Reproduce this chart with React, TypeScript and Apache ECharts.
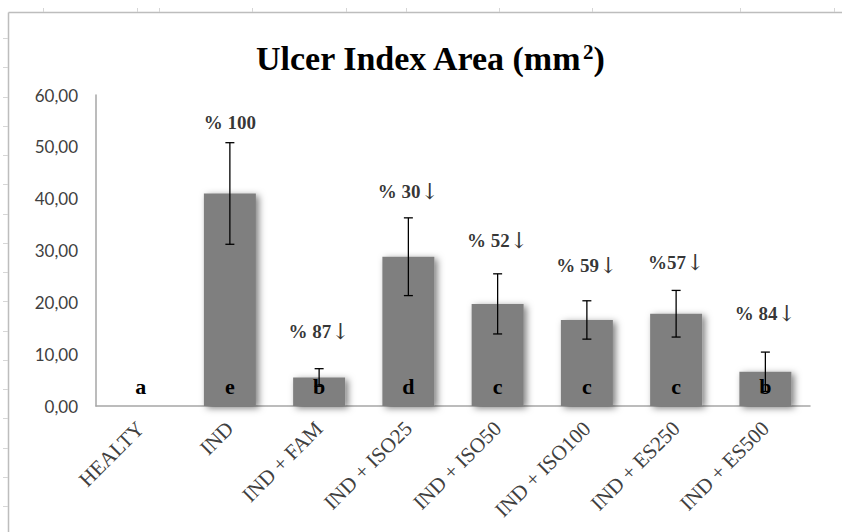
import React, { useEffect, useRef } from "react";
import * as echarts from "echarts";

const categories = ["HEALTY", "IND", "IND + FAM", "IND + ISO25", "IND + ISO50", "IND + ISO100", "IND + ES250", "IND + ES500"];
const means = [0, 41.0, 5.5, 28.8, 19.7, 16.6, 17.8, 6.6];
const sds = [0, 9.8, 1.7, 7.5, 5.8, 3.7, 4.5, 3.8];
const letters = ["a", "e", "b", "d", "c", "c", "c", "b"];
const pctLabels = ["", "% 100", "% 87", "% 30", "% 52", "% 59", "%57", "% 84"];
const pctArrows = [false, false, true, true, true, true, true, true];
const pctLabelY = [null, 54.6, 14.3, 41.4, 31.9, 27.2, 27.7, 17.9];
const yTicks = { min: 0, max: 60, interval: 10 };
const frameTopTicks = [43, 137, 159, 252, 346, 406, 499, 592, 740, 834];

export default function App() {
  const ref = useRef<HTMLDivElement>(null);
  useEffect(() => {
    document.body.style.margin = "0";
    const chart = echarts.init(ref.current!, undefined, { renderer: "svg" });
    const serif = "'Liberation Serif', 'Times New Roman', serif";
    const graphics: any[] = [
      { type: "line", shape: { x1: 8.5, y1: 12.5, x2: 842, y2: 12.5 }, style: { stroke: "#bdbdbd", lineWidth: 1.5 }, silent: true },
      { type: "line", shape: { x1: 8.5, y1: 12.5, x2: 8.5, y2: 532 }, style: { stroke: "#bdbdbd", lineWidth: 1.5 }, silent: true },
    ];
    frameTopTicks.forEach((x) => {
      graphics.push({ type: "line", shape: { x1: x + 0.5, y1: 8, x2: x + 0.5, y2: 12 }, style: { stroke: "#d6d6d6", lineWidth: 1 }, silent: true });
    });
    for (let y = 38; y < 532; y += 29.25) {
      graphics.push({ type: "line", shape: { x1: 3, y1: Math.round(y) + 0.5, x2: 8, y2: Math.round(y) + 0.5 }, style: { stroke: "#d6d6d6", lineWidth: 1 }, silent: true });
    }
    chart.setOption({
      animation: false,
      backgroundColor: "#ffffff",
      title: {
        text: "{t|Ulcer Index Area (mm}{s|2}{t|)}",
        left: 251,
        top: 36,
        textStyle: {
          rich: {
            t: { fontFamily: serif, fontWeight: "bold", fontSize: 34, color: "#000" },
            s: { fontFamily: serif, fontWeight: "bold", fontSize: 21, color: "#000", verticalAlign: "top" },
          },
        },
      },
      graphic: graphics,
      grid: { left: 96, right: 32, top: 95, bottom: 126 },
      xAxis: {
        type: "category",
        data: categories,
        axisLine: { lineStyle: { color: "#a6a6a6", width: 1.5 } },
        axisTick: { show: false },
        axisLabel: { rotate: 45, interval: 0, fontFamily: serif, fontSize: 21, color: "#404040", margin: 19 },
      },
      yAxis: {
        type: "value",
        min: yTicks.min,
        max: yTicks.max,
        interval: yTicks.interval,
        splitLine: { show: false },
        axisLine: { show: true, lineStyle: { color: "#a6a6a6", width: 1.5 } },
        axisTick: { show: false },
        axisLabel: {
          fontFamily: "Lato, 'Liberation Sans', sans-serif",
          fontSize: 17,
          color: "#404040",
          margin: 18,
          formatter: (v: number) => v.toFixed(2).replace(".", ","),
        },
      },
      series: [
        {
          type: "bar",
          data: means,
          barWidth: 52,
          itemStyle: {
            color: "#7f7f7f",
            shadowBlur: 7,
            shadowColor: "rgba(0,0,0,0.5)",
            shadowOffsetX: 3,
            shadowOffsetY: 2,
          },
          label: {
            show: true,
            position: "insideBottom",
            distance: 9,
            formatter: (p: any) => letters[p.dataIndex],
            fontFamily: serif,
            fontWeight: "bold",
            fontSize: 22,
            color: "#000",
          },
          z: 2,
        },
        {
          type: "custom",
          z: 10,
          data: means.map((m, i) => [i, m - sds[i], m + sds[i]]),
          renderItem: (params: any, api: any) => {
            const i = api.value(0);
            if (sds[i] === 0) return null;
            const lo = api.coord([i, api.value(1)]);
            const hi = api.coord([i, api.value(2)]);
            const cap = 4.5;
            const st = { stroke: "#000", lineWidth: 1.3 };
            return {
              type: "group",
              children: [
                { type: "line", shape: { x1: hi[0], y1: hi[1], x2: lo[0], y2: lo[1] }, style: st },
                { type: "line", shape: { x1: hi[0] - cap, y1: hi[1], x2: hi[0] + cap, y2: hi[1] }, style: st },
                { type: "line", shape: { x1: lo[0] - cap, y1: lo[1], x2: lo[0] + cap, y2: lo[1] }, style: st },
              ],
            };
          },
        },
        {
          type: "scatter",
          symbolSize: 0,
          z: 11,
          data: pctLabelY.map((y, i) => [i, y]),
          label: {
            show: true,
            position: "inside",
            formatter: (p: any) =>
              "{p|" + pctLabels[p.dataIndex] + "}" + (pctArrows[p.dataIndex] ? "{a|↓}" : ""),
            rich: {
              p: { fontFamily: serif, fontWeight: "bold", fontSize: 19, color: "#000" },
              a: { fontFamily: "'DejaVu Serif', serif", fontWeight: "normal", fontSize: 22, color: "#000" },
            },
          },
        },
      ],
    });
    return () => chart.dispose();
  }, []);
  return <div ref={ref} style={{ position: "absolute", left: 0, top: 0, width: 842, height: 532 }} />;
}
